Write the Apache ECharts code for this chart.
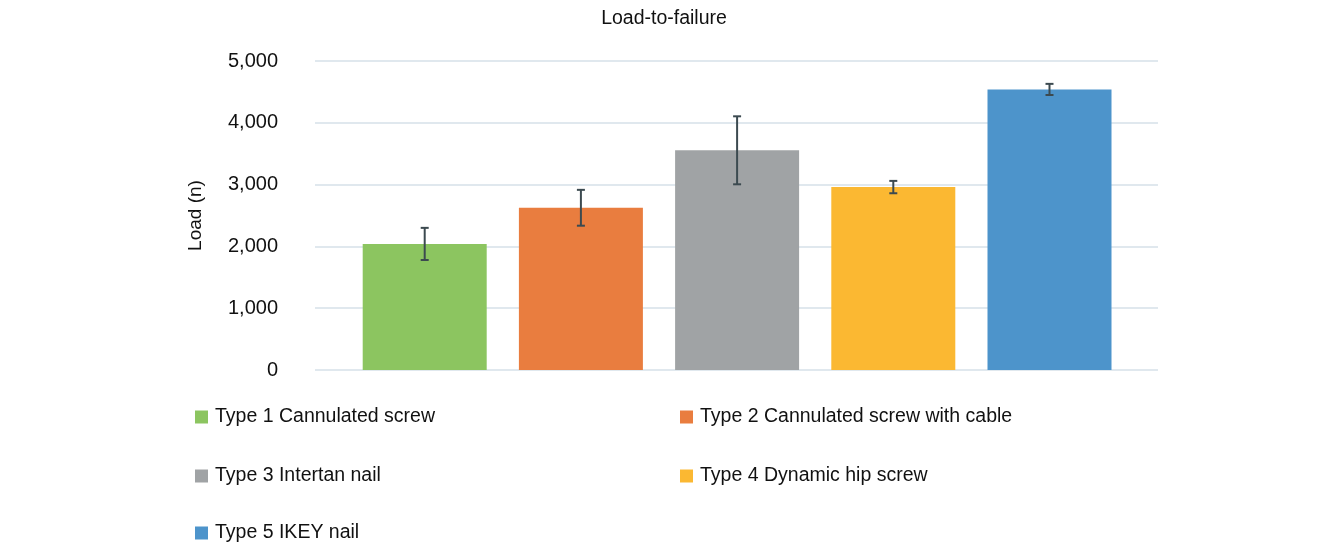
<!DOCTYPE html>
<html>
<head>
<meta charset="utf-8">
<script src="https://cdn.jsdelivr.net/npm/echarts@6/dist/echarts.min.js"></script>
<style>html,body{margin:0;padding:0;background:#fff}#c{width:1318px;height:543px}</style>
</head>
<body>
<div id="c"></div>
<script>
var categories = ['Type 1 Cannulated screw', 'Type 2 Cannulated screw with cable', 'Type 3 Intertan nail', 'Type 4 Dynamic hip screw', 'Type 5 IKEY nail'];
var loads = [2040, 2625, 3555, 2960, 4540];
var errors = [260, 290, 550, 100, 90];
var colors = ['#8CC560', '#E97D3F', '#A0A3A5', '#FBB832', '#4D94CB'];
var yTicks = [0, 1000, 2000, 3000, 4000, 5000];

var FONT = 'Liberation Sans, Arial, sans-serif';
var TEXT = '#111';
var chart = echarts.init(document.getElementById('c'));

var series = categories.map(function (name, i) {
  return {
    name: name,
    type: 'bar',
    xAxisIndex: 1, yAxisIndex: 1,
    stack: 'all',
    barWidth: 124,
    itemStyle: { color: colors[i] },
    data: categories.map(function (c, j) { return j === i ? loads[i] : null; })
  };
});

series.push({
  type: 'custom',
  xAxisIndex: 1, yAxisIndex: 1,
  z: 10,
  data: loads.map(function (v, i) { return [i, v - errors[i], v + errors[i]]; }),
  renderItem: function (params, api) {
    var lo = api.coord([api.value(0), api.value(1)]);
    var hi = api.coord([api.value(0), api.value(2)]);
    var cap = 4;
    var st = { stroke: '#3c4a50', lineWidth: 2 };
    return {
      type: 'group',
      children: [
        { type: 'line', shape: { x1: hi[0], y1: hi[1], x2: lo[0], y2: lo[1] }, style: st },
        { type: 'line', shape: { x1: hi[0] - cap, y1: hi[1], x2: hi[0] + cap, y2: hi[1] }, style: st },
        { type: 'line', shape: { x1: lo[0] - cap, y1: lo[1], x2: lo[0] + cap, y2: lo[1] }, style: st }
      ]
    };
  }
});

var legendPos = [[195, 407], [680, 407], [195, 466], [680, 466], [195, 523]];
var legends = categories.map(function (name, i) {
  return {
    data: [name],
    left: legendPos[i][0], top: legendPos[i][1],
    padding: 0,
    icon: 'rect', itemWidth: 13, itemHeight: 13,
    selectedMode: false,
    textStyle: { fontFamily: FONT, fontSize: 19.5, color: TEXT, padding: [0, 0, 0, 2] }
  };
});

chart.setOption({
  animation: false,
  title: {
    text: 'Load-to-failure', left: 664, top: 9, textAlign: 'center', padding: 0,
    textStyle: { fontFamily: FONT, fontSize: 19.5, fontWeight: 'normal', color: TEXT }
  },
  legend: legends,
  grid: [
    { left: 315, right: 160, top: 61, bottom: 173 },
    { left: 346.6, right: 190.4, top: 61, bottom: 173 }
  ],
  xAxis: [
    { type: 'value', gridIndex: 0, min: 0, max: 1, show: false },
    { type: 'category', gridIndex: 1, data: categories, show: false }
  ],
  yAxis: [
    {
      type: 'value', gridIndex: 0, min: yTicks[0], max: yTicks[yTicks.length - 1], interval: 1000,
      name: 'Load (n)', nameLocation: 'middle', nameGap: 110,
      nameTextStyle: { fontFamily: FONT, fontSize: 19, color: TEXT },
      axisLine: { show: false }, axisTick: { show: false },
      axisLabel: {
        margin: 37, fontFamily: FONT, fontSize: 20, color: TEXT,
        formatter: function (v) { return v.toLocaleString('en-US'); }
      },
      splitLine: { lineStyle: { color: '#d6e0e8', width: 1.5 } }
    },
    { type: 'value', gridIndex: 1, min: 0, max: 5000, show: false, splitLine: { show: false } }
  ],
  series: series
});
</script>
</body>
</html>
